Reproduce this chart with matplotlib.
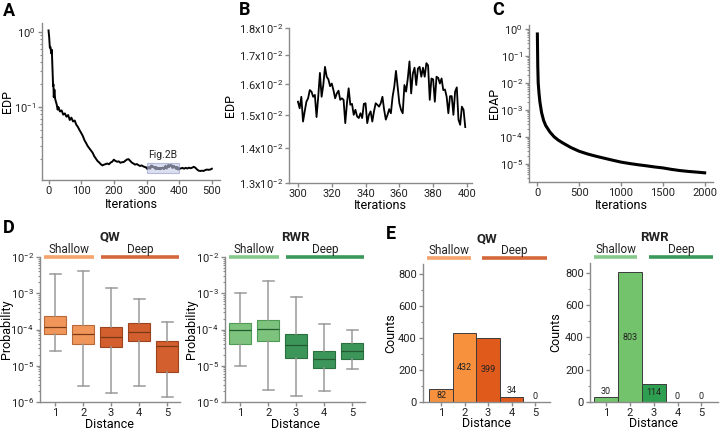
import numpy as np
import matplotlib
matplotlib.use("Agg")
import matplotlib.pyplot as plt
from matplotlib.patches import Rectangle
from matplotlib.ticker import FixedLocator, NullLocator, NullFormatter, LogLocator, MultipleLocator

plt.rcParams['font.family'] = ['Roboto', 'DejaVu Sans']
plt.rcParams['mathtext.fontset'] = 'custom'
plt.rcParams['mathtext.rm'] = 'Roboto'
plt.rcParams['mathtext.default'] = 'regular'
plt.rcParams['axes.unicode_minus'] = True

# ---- data ----
# panel A: EDP vs iterations (0-295 and 400-500), 300-399 shared with panel B
a_iter_head = [0, 2, 4, 6, 8, 10, 12, 14, 15, 16, 18, 20, 22, 25, 28, 30, 35, 40, 45, 50,
               55, 60, 65, 70, 75, 80, 85, 90, 95, 100, 105, 110, 115, 120, 125, 130, 135,
               140, 145, 150, 155, 160, 165, 170, 175, 180, 185, 190, 195, 200, 205, 210,
               215, 220, 225, 230, 235, 240, 245, 250, 255, 260, 265, 270, 275, 280, 285,
               290, 295]
a_edp_head = [1.05, 0.85, 0.62, 0.63, 0.52, 0.58, 0.33, 0.19, 0.20, 0.135, 0.17, 0.13, 0.12,
              0.108, 0.092, 0.100, 0.087, 0.090, 0.079, 0.082, 0.074, 0.078, 0.067, 0.072,
              0.064, 0.066, 0.058, 0.054, 0.049, 0.045, 0.041, 0.036, 0.033, 0.030, 0.028,
              0.026, 0.0245, 0.022, 0.0205, 0.019, 0.0182, 0.0172, 0.0166, 0.0170, 0.0173,
              0.0176, 0.0172, 0.0181, 0.0186, 0.0198, 0.0190, 0.0186, 0.0188, 0.0180, 0.0183,
              0.0184, 0.0191, 0.0199, 0.0201, 0.0191, 0.0181, 0.0176, 0.0170, 0.0173, 0.0168,
              0.0163, 0.0166, 0.0161, 0.0158]
a_iter_tail = [400, 405, 410, 415, 420, 425, 430, 435, 440, 445, 450, 455, 460, 465, 470,
               475, 480, 485, 490, 495, 500]
a_edp_tail = [0.0151, 0.0151, 0.0154, 0.0150, 0.0154, 0.0151, 0.0155, 0.0152, 0.0155, 0.0159,
              0.0154, 0.0146, 0.0141, 0.0140, 0.0141, 0.0140, 0.0144, 0.0146, 0.0145, 0.0146,
              0.0150]

# panel B: EDP (x1e-2) for iterations 300..399
b_iter = list(range(300, 400))
b_edp = [1.542, 1.521, 1.558, 1.479, 1.511, 1.542, 1.553, 1.580, 1.575, 1.558,
         1.564, 1.493, 1.558, 1.638, 1.558, 1.597, 1.659, 1.625, 1.616, 1.593,
         1.602, 1.580, 1.553, 1.569, 1.578, 1.548, 1.553, 1.548, 1.474, 1.537,
         1.586, 1.532, 1.535, 1.500, 1.516, 1.495, 1.490, 1.505, 1.490, 1.535,
         1.537, 1.474, 1.500, 1.511, 1.479, 1.511, 1.537, 1.532, 1.526, 1.537,
         1.558, 1.516, 1.485, 1.500, 1.518, 1.505, 1.558, 1.591, 1.645, 1.591,
         1.537, 1.516, 1.505, 1.597, 1.575, 1.619, 1.678, 1.569, 1.636, 1.656,
         1.597, 1.653, 1.659, 1.625, 1.656, 1.625, 1.672, 1.664, 1.548, 1.619,
         1.616, 1.542, 1.625, 1.621, 1.602, 1.619, 1.580, 1.582, 1.558, 1.505,
         1.560, 1.560, 1.500, 1.575, 1.589, 1.485, 1.469, 1.526, 1.516, 1.462]
b_yticks = [1.3, 1.4, 1.5, 1.6, 1.7, 1.8]

# panel C: EDAP vs iterations
c_iter = [0, 5, 10, 20, 30, 50, 75, 100, 150, 200, 250, 300, 400, 500, 600, 700, 800,
          900, 1000, 1100, 1200, 1300, 1400, 1500, 1600, 1700, 1800, 1900, 2000]
c_edap = [0.65, 0.04, 0.01, 4e-3, 2e-3, 8e-4, 4e-4, 2.6e-4, 1.5e-4, 1.0e-4, 7.5e-5,
          6e-5, 4e-5, 2.9e-5, 2.3e-5, 1.9e-5, 1.6e-5, 1.35e-5, 1.15e-5, 1.02e-5, 9.2e-6,
          8.4e-6, 7.6e-6, 7.0e-6, 6.2e-6, 5.6e-6, 5.2e-6, 4.9e-6, 4.6e-6]

# panel D: probability box stats per distance
distance = [1, 2, 3, 4, 5]
qw_whishi = [3.5e-3, 4.1e-3, 1.36e-3, 7e-4, 1.65e-4]
qw_q3 = [2.3e-4, 1.3e-4, 1.16e-4, 1.55e-4, 4.7e-5]
qw_med = [1.2e-4, 7.5e-5, 6.4e-5, 8.8e-5, 3.6e-5]
qw_q1 = [7.5e-5, 4.0e-5, 3.3e-5, 4.9e-5, 6.8e-6]
qw_whislo = [2.6e-5, 2.75e-6, 1.8e-6, 2.75e-6, 1.37e-6]

rwr_whishi = [1.03e-3, 2.2e-3, 8e-4, 1.4e-4, 9.8e-5]
rwr_q3 = [1.55e-4, 1.84e-4, 7.5e-5, 2.6e-5, 4.2e-5]
rwr_med = [9.4e-5, 1.04e-4, 3.65e-5, 1.57e-5, 2.5e-5]
rwr_q1 = [3.96e-5, 4.9e-5, 1.64e-5, 8.7e-6, 1.57e-5]
rwr_whislo = [1.0e-5, 2.1e-6, 1.5e-6, 2.0e-6, 8.2e-6]

# panel E: counts per distance
qw_counts = [82, 432, 399, 34, 0]
rwr_counts = [30, 803, 114, 0, 0]

# ---- style ----
spine_col = '#8a8a8a'
txt_col = '#222222'
qw_light, qw_dark = '#F0965A', '#D25F2D'
qw_edge_light, qw_edge_dark = '#B8693A', '#9C4420'
qw_median = '#7A3A18'
rwr_light, rwr_dark = '#7DC37D', '#3C965A'
rwr_edge_light, rwr_edge_dark = '#4F9A55', '#2A7040'
rwr_median = '#235A30'
qw_bar_light, qw_bar_dark = '#F7913D', '#E05A1C'
rwr_bar_light, rwr_bar_dark = '#73C26C', '#2E9E50'
qw_line_light, qw_line_dark = '#F4A46C', '#D4683A'
rwr_line_light, rwr_line_dark = '#86C98A', '#3A9A5C'

W, H = 720, 432


def px_axes(fig, left, top, right, bottom):
    return fig.add_axes([left / W, 1 - bottom / H, (right - left) / W, (bottom - top) / H])


def style(ax):
    for s in ['top', 'right']:
        ax.spines[s].set_visible(False)
    for s in ['left', 'bottom']:
        ax.spines[s].set_color(spine_col)
        ax.spines[s].set_linewidth(1.0)
    ax.tick_params(which='both', colors=spine_col, labelcolor=txt_col, labelsize=8,
                   direction='out', pad=1.5)
    ax.tick_params(which='major', length=3, width=1.0)
    ax.tick_params(which='minor', length=1.8, width=0.8)


fig = plt.figure(figsize=(7.2, 4.32), dpi=100)

# ---- A ----
axA = px_axes(fig, 42, 23, 220, 180)
a_x = a_iter_head + b_iter + a_iter_tail
a_y = a_edp_head + [v * 1e-2 for v in b_edp] + a_edp_tail
axA.plot(a_x, a_y, color='black', lw=1.4, zorder=2)
axA.set_yscale('log')
axA.set_xlim(-20, 525)
axA.set_ylim(0.0106, 1.32)
axA.set_xticks([0, 100, 200, 300, 400, 500])
axA.add_patch(Rectangle((300, 0.013), 100, 0.005, facecolor='#C5CAE6', edgecolor='#8D95C4',
                        lw=0.8, alpha=0.6, zorder=3))
axA.text(350, 0.0195, 'Fig.2B', ha='center', va='bottom', fontsize=7.5, color=txt_col)
style(axA)
axA.set_ylabel('EDP', fontsize=9)
axA.set_xlabel('Iterations', fontsize=9)
axA.yaxis.set_label_coords(-0.16, 0.5)
axA.xaxis.set_label_coords(0.5, -0.115)

# ---- B ----
axB = px_axes(fig, 289, 28, 472, 183)
axB.plot(b_iter, [v * 1e-2 for v in b_edp], color='black', lw=1.3)
axB.set_yscale('log')
axB.set_xlim(294.7, 403)
axB.set_ylim(0.013, 0.018)
axB.set_xticks([300, 320, 340, 360, 380, 400])
axB.yaxis.set_major_locator(FixedLocator([v * 1e-2 for v in b_yticks]))
axB.yaxis.set_minor_locator(NullLocator())
axB.yaxis.set_minor_formatter(NullFormatter())
axB.set_yticklabels([r'$%.1fx10^{-2}$' % v for v in b_yticks])
style(axB)
axB.set_ylabel('EDP', fontsize=9)
axB.set_xlabel('Iterations', fontsize=9)
axB.yaxis.set_label_coords(-0.285, 0.5)
axB.xaxis.set_label_coords(0.5, -0.10)

# ---- C ----
axC = px_axes(fig, 529, 25, 713, 182)
axC.plot(c_iter, c_edap, color='black', lw=2.2)
axC.set_yscale('log')
axC.set_xlim(-100, 2100)
axC.set_ylim(2.1e-6, 1.4)
axC.set_xticks([0, 500, 1000, 1500, 2000])
axC.yaxis.set_major_locator(LogLocator(base=10, numticks=10))
axC.yaxis.set_minor_locator(LogLocator(base=10, subs=np.arange(2, 10), numticks=10))
axC.yaxis.set_minor_formatter(NullFormatter())
style(axC)
axC.set_ylabel('EDAP', fontsize=9)
axC.set_xlabel('Iterations', fontsize=9)
axC.yaxis.set_label_coords(-0.15, 0.5)
axC.xaxis.set_label_coords(0.5, -0.11)


def group_bracket(ax, y_line, y_text, light, dark, shallow_span, deep_span):
    tr = ax.get_xaxis_transform()
    ax.plot(shallow_span, [y_line, y_line], color=light, lw=2.6, transform=tr,
            clip_on=False, solid_capstyle='butt')
    ax.plot(deep_span, [y_line, y_line], color=dark, lw=2.6, transform=tr,
            clip_on=False, solid_capstyle='butt')
    ax.text(sum(shallow_span) / 2, y_text, 'Shallow', transform=tr, ha='center',
            va='center', fontsize=8.5, color=txt_col)
    ax.text(sum(deep_span) / 2, y_text, 'Deep', transform=tr, ha='center',
            va='center', fontsize=8.5, color=txt_col)


def box_panel(ax, hi, q3, med, q1, lo, faces, edges, med_col, title, lline, dline):
    stats = []
    for i in range(len(distance)):
        stats.append(dict(med=med[i], q1=q1[i], q3=q3[i], whislo=lo[i], whishi=hi[i]))
    bp = ax.bxp(stats, positions=distance, widths=0.8, patch_artist=True,
                showfliers=False, capwidths=0.4,
                whiskerprops=dict(color='#9a9a9a', lw=1.1),
                capprops=dict(color='#9a9a9a', lw=1.1))
    for i, box in enumerate(bp['boxes']):
        k = 0 if i < 2 else 1
        box.set_facecolor(faces[k])
        box.set_edgecolor(edges[k])
        box.set_linewidth(0.8)
    for m in bp['medians']:
        m.set_color(med_col)
        m.set_linewidth(0.9)
    ax.set_yscale('log')
    ax.set_ylim(1e-6, 1e-2)
    ax.set_xlim(0.46, 5.46)
    ax.set_xticks(distance)
    ax.set_xticklabels([str(d) for d in distance])
    ax.yaxis.set_major_locator(LogLocator(base=10, numticks=10))
    ax.yaxis.set_minor_locator(LogLocator(base=10, subs=np.arange(2, 10), numticks=10))
    ax.yaxis.set_minor_formatter(NullFormatter())
    style(ax)
    ax.set_ylabel('Probability', fontsize=9)
    ax.set_xlabel('Distance', fontsize=9)
    ax.yaxis.set_label_coords(-0.195, 0.5)
    ax.xaxis.set_label_coords(0.5, -0.108)
    ax.text(0.5, 1.137, title, transform=ax.transAxes, ha='center', va='center',
            fontsize=9.5, fontweight='bold', color=txt_col)
    group_bracket(ax, 1.0, 1.05, lline, dline, [0.61, 2.39], [2.64, 5.43])


axDq = px_axes(fig, 40, 257, 180, 402)
box_panel(axDq, qw_whishi, qw_q3, qw_med, qw_q1, qw_whislo, (qw_light, qw_dark),
          (qw_edge_light, qw_edge_dark), qw_median, 'QW', qw_line_light, qw_line_dark)
axDr = px_axes(fig, 225, 257, 365, 402)
box_panel(axDr, rwr_whishi, rwr_q3, rwr_med, rwr_q1, rwr_whislo, (rwr_light, rwr_dark),
          (rwr_edge_light, rwr_edge_dark), rwr_median, 'RWR', rwr_line_light, rwr_line_dark)


def bar_panel(ax, counts, light, dark, title, lline, dline, xlim, ylab_x, spans):
    cols = [light, light, dark, dark, dark]
    ax.bar(distance, counts, width=1.0, color=cols, edgecolor='#3b3b3b', linewidth=0.7)
    for d, c in zip(distance, counts):
        if c > 50:
            ax.text(d, c * 0.5, str(c), ha='center', va='center', fontsize=6.5, color=txt_col)
        else:
            ax.text(d, c + 8, str(c), ha='center', va='bottom', fontsize=6.5, color=txt_col)
    ax.set_xlim(*xlim)
    ax.set_ylim(0, 860)
    ax.set_xticks(distance)
    ax.set_yticks([0, 200, 400, 600, 800])
    ax.yaxis.set_minor_locator(MultipleLocator(100))
    style(ax)
    ax.set_ylabel('Counts', fontsize=9)
    ax.set_xlabel('Distance', fontsize=9)
    ax.yaxis.set_label_coords(ylab_x, 0.5)
    ax.xaxis.set_label_coords(0.5, -0.108)
    ax.text(0.5, 1.18, title, transform=ax.transAxes, ha='center', va='center',
            fontsize=9.5, fontweight='bold', color=txt_col)
    group_bracket(ax, 1.043, 1.10, lline, dline, spans[0], spans[1])


axEq = px_axes(fig, 423, 264, 550, 402)
bar_panel(axEq, qw_counts, qw_bar_light, qw_bar_dark, 'QW', qw_line_light, qw_line_dark,
          (0.23, 5.64), -0.2, ([0.40, 2.28], [2.74, 5.51]))
axEr = px_axes(fig, 590, 263, 718, 402)
bar_panel(axEr, rwr_counts, rwr_bar_light, rwr_bar_dark, 'RWR', rwr_line_light, rwr_line_dark,
          (0.32, 5.7), -0.215, ([0.49, 2.31], [2.81, 5.51]))

# panel letters
for lab, x, y in [('A', 9, 11), ('B', 245, 10), ('C', 498, 10), ('D', 9, 228), ('E', 391, 234)]:
    fig.text(x / W, 1 - y / H, lab, ha='center', va='center', fontsize=13,
             fontweight='bold', color='black')

fig.savefig('out.png', dpi=100)
